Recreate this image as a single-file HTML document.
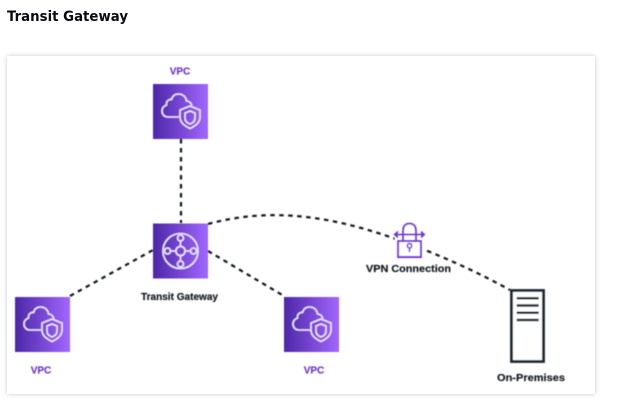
<!DOCTYPE html>
<html>
<head>
<meta charset="utf-8">
<style>
html,body{margin:0;padding:0;background:#fff;width:624px;height:408px;overflow:hidden}
svg{display:block}
text{font-family:"Liberation Sans",sans-serif;font-weight:700}
.title{font-family:"DejaVu Sans","Liberation Sans",sans-serif;font-size:14.5px;fill:#0a0a14}
.lab{font-size:10px;fill:#10161e;stroke:#10161e;stroke-width:.15;text-anchor:middle}
.vpc{font-size:10px;fill:#6f35c8;stroke:#6f35c8;stroke-width:.15;text-anchor:middle}
.dash{fill:none;stroke:#10161e;stroke-width:2.2;stroke-dasharray:4.5 4.5}
.ic{fill:none;stroke:#efe8ff;stroke-width:1.6}
.vp{fill:none;stroke:#7433dc;stroke-width:2.1}
</style>
</head>
<body>
<svg width="624" height="408" viewBox="0 0 624 408" xmlns="http://www.w3.org/2000/svg">
<defs>
<linearGradient id="g" x1="0" y1="0" x2="1" y2="0">
<stop offset="0" stop-color="#4d27a8"/>
<stop offset="1" stop-color="#a166ff"/>
</linearGradient>
<filter id="sh" x="-5%" y="-5%" width="110%" height="110%">
<feDropShadow dx="0" dy="0" stdDeviation="2" flood-color="#000" flood-opacity="0.22"/>
</filter>
<filter id="b" x="-2%" y="-2%" width="104%" height="104%">
<feGaussianBlur stdDeviation="0.4"/>
</filter>
<g id="vpcIcon">
<rect width="55" height="55" fill="url(#g)"/>
<path class="ic" d="M26,33 H15 C11.5,33 9,30.5 9,27 C9,24 11,22 13.5,21 C13,17.5 15.5,15 18.5,15.5 C19.5,12 22,10 25.5,10 C30,10 33,13 33.5,17 C36,17 38,19 39,21.5"/>
<path class="ic" d="M37,22 L47,26 V33 C47,39 42,42 37,44.5 C32,42 27,39 27,33 V26 Z"/>
<path class="ic" d="M37,27 L42,29 V34 C42,37 40,39 37,40 C34,39 32,37 32,34 V29 Z"/>
</g>
</defs>

<text class="title" x="7" y="21" textLength="121" lengthAdjust="spacingAndGlyphs">Transit Gateway</text>

<rect x="7" y="56" width="588" height="338" fill="#fff" filter="url(#sh)"/>

<g filter="url(#b)">
<path class="dash" d="M181,139 V223"/>
<path class="dash" d="M70,296 L153,250"/>
<path class="dash" d="M208,251 L284,296"/>
<path class="dash" d="M208,224 C270,207 330,216 393,238 C430,251 470,268 510,290"/>

<use href="#vpcIcon" x="153" y="84"/>
<use href="#vpcIcon" x="15" y="297"/>
<use href="#vpcIcon" x="284" y="297"/>

<g transform="translate(153,223.5)">
<rect width="55" height="55" fill="url(#g)"/>
<circle class="ic" cx="27.5" cy="27.5" r="17.5"/>
<path class="ic" d="M27.5,17.5 V23 M27.5,32 V37.5 M17.5,27.5 H23 M32,27.5 H37.5"/>
<circle cx="27.5" cy="27.5" r="4.6" fill="#7a45d4" stroke="#efe8ff" stroke-width="1.6"/>
<circle cx="27.5" cy="14.5" r="3" fill="#7a45d4" stroke="#efe8ff" stroke-width="1.6"/>
<circle cx="27.5" cy="40.5" r="3" fill="#7a45d4" stroke="#efe8ff" stroke-width="1.6"/>
<circle cx="14.5" cy="27.5" r="3" fill="#6d3cc8" stroke="#efe8ff" stroke-width="1.6"/>
<circle cx="40.5" cy="27.5" r="3" fill="#8a52e4" stroke="#efe8ff" stroke-width="1.6"/>
</g>

<rect x="395" y="222" width="30" height="35" fill="#fff"/>
<rect class="vp" x="398" y="241" width="23" height="16"/>
<path class="vp" d="M403,241 V231 C403,226 405.5,223.5 409.5,223.5 C413.5,223.5 416,226 416,231 V241"/>
<path class="vp" d="M395,234.5 H424 M398,231.5 L395,234.5 L398,237.5 M421,231.5 L424,234.5 L421,237.5"/>
<circle cx="409.5" cy="245.8" r="2.2" fill="none" stroke="#7433dc" stroke-width="1.6"/>
<path d="M409.5,248 V252" stroke="#7433dc" stroke-width="1.6"/>

<rect x="511.5" y="290.5" width="32" height="71" fill="#fff" stroke="#1b2531" stroke-width="2.8"/>
<path d="M516.7,298.3 H538.7 M516.7,305.5 H538.7 M516.7,312.7 H538.7 M516.7,320 H538.7" stroke="#1b2531" stroke-width="2.5"/>

<text class="vpc" x="180" y="74.5">VPC</text>
<text class="vpc" x="41" y="373.5">VPC</text>
<text class="vpc" x="314" y="373.5">VPC</text>
<text class="lab" x="179.5" y="300" textLength="77" lengthAdjust="spacingAndGlyphs">Transit Gateway</text>
<text class="lab" x="408.5" y="272" textLength="85" lengthAdjust="spacingAndGlyphs">VPN Connection</text>
<text class="lab" x="531" y="381" textLength="68" lengthAdjust="spacingAndGlyphs">On-Premises</text>
</g>
</svg>
</body>
</html>
